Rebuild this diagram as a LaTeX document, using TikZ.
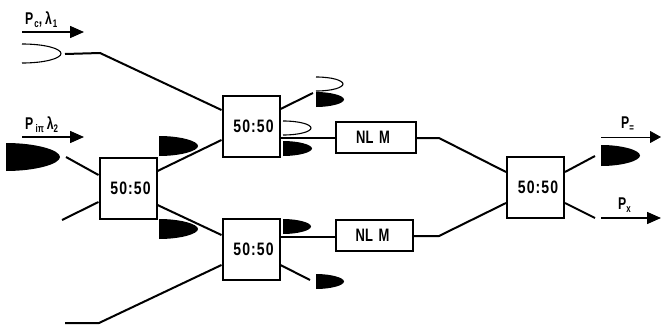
\documentclass[tikz,border=0pt]{standalone}
\usepackage{fontspec}
\setmainfont{Liberation Sans}[FakeStretch=0.72]
\newfontfamily\ratiofont{Liberation Sans}[FakeStretch=0.78,LetterSpace=6]
\usetikzlibrary{arrows.meta}
\tikzset{
  splitbox/.style={draw,line width=2pt,fill=white,minimum width=57pt,minimum height=61pt,inner sep=0pt,font=\ratiofont\bfseries\fontsize{18}{18}\selectfont},
  nlbox/.style={draw,line width=2pt,fill=white,minimum height=31pt,inner sep=0pt,font=\bfseries\fontsize{18}{18}\selectfont},
  fibre/.style={line width=2pt},
  beam/.style={line width=1.5pt,-{Triangle[length=14pt,width=12pt]}},
  thinbeam/.style={line width=0.9pt,-{Triangle[length=11pt,width=12pt]}},
  lab/.style={inner sep=0pt,font=\bfseries\fontsize{17}{17}\selectfont},
  openlens/.style={line width=1.1pt},
}
% #1 left x, #2 top y, #3 tip x, #4 bottom y
\newcommand{\fulllens}[4]{\fill (#1,#2) .. controls ({#1+0.55*(#3-#1)},#2) and (#3,{#2+0.25*(#4-#2)}) .. (#3,{(#2+#4)/2}) .. controls (#3,{#2+0.75*(#4-#2)}) and ({#1+0.55*(#3-#1)},#4) .. (#1,#4) -- cycle;}
\newcommand{\openlens}[4]{\draw[openlens] (#1,#2) .. controls ({#1+0.6*(#3-#1)},#2) and (#3,{#2+0.25*(#4-#2)}) .. (#3,{(#2+#4)/2}) .. controls (#3,{#2+0.75*(#4-#2)}) and ({#1+0.6*(#3-#1)},#4) .. (#1,#4);}
\newcommand{\subs}[1]{\raisebox{-3pt}{\fontsize{11}{11}\selectfont #1}}
\begin{document}
\begin{tikzpicture}[x=1pt,y=-1pt]
\useasboundingbox (0,0) rectangle (661,324);
% boxes
\node[splitbox] (b1) at (128,188) {\hspace*{5pt}50:50};
\node[splitbox] (b2) at (251,126) {\hspace*{5pt}50:50};
\node[splitbox] (b3) at (251,249) {\hspace*{5pt}50:50};
\node[splitbox] (b4) at (535.5,187) {\hspace*{5pt}50:50};
\node[nlbox,minimum width=80pt] (n1) at (375.5,137) {NL\hspace{2pt} M\hspace*{5pt}};
\node[nlbox,minimum width=77pt] (n2) at (374,235) {NL\hspace{2pt} M\hspace*{3pt}};
% free ends
\coordinate (in1) at (65,54);
\coordinate (k1) at (100,53);
\coordinate (in2) at (65,323);
\coordinate (k2) at (99,323);
\coordinate (l1) at (66,157);
\coordinate (l2) at (62,220);
\coordinate (u1) at (313,93);
\coordinate (d1) at (310,280);
\coordinate (j1) at (439,138);
\coordinate (j2) at (439,236);
\coordinate (o1) at (595,156);
\coordinate (o2) at (595,218);
\coordinate (a1s) at (22,32);
\coordinate (a1e) at (84,32);
\coordinate (a2s) at (22,137);
\coordinate (a2e) at (84,137);
\coordinate (a3s) at (601,137);
\coordinate (a3e) at (661,137);
\coordinate (a4s) at (601,218);
\coordinate (a4e) at (661,218);
% fibres
\draw[fibre] (in1) -- (k1) -- ([yshift=16pt]b2.west);
\draw[fibre] (in2) -- (k2) -- ([yshift=-16pt]b3.west);
\draw[fibre] (l1) -- ([yshift=13pt]b1.west);
\draw[fibre] (l2) -- ([yshift=-14pt]b1.west);
\draw[fibre] ([yshift=17pt]b1.east) -- ([yshift=-14pt]b2.west);
\draw[fibre] ([yshift=-17pt]b1.east) -- ([yshift=14pt]b3.west);
\draw[fibre] ([yshift=17pt]b2.east) -- (u1);
\draw[fibre] ([yshift=-12pt]b2.east) -- ([yshift=-1pt]n1.west);
\draw[fibre] ([yshift=12pt]b3.east) -- ([yshift=-2pt]n2.west);
\draw[fibre] ([yshift=-16pt]b3.east) -- (d1);
\draw[fibre] ([yshift=-1pt]n1.east) -- (j1) -- ([yshift=15pt]b4.west);
\draw[fibre] ([yshift=-1pt]n2.east) -- (j2) -- ([yshift=-16pt]b4.west);
\draw[fibre] ([yshift=15pt]b4.east) -- (o1);
\draw[fibre] ([yshift=-16pt]b4.east) -- (o2);
% beams
\draw[beam] (a1s) -- (a1e);
\draw[beam] (a2s) -- (a2e);
\draw[thinbeam] (a3s) -- (a3e);
\draw[beam] (a4s) -- (a4e);
% lenses
\openlens{22}{44}{61}{63}
\openlens{316}{77}{343}{91}
\openlens{283}{121}{311}{135}
\fulllens{6}{143}{60}{171}
\fulllens{159}{136}{198}{156}
\fulllens{159}{219}{198}{239}
\fulllens{316}{92}{344}{107}
\fulllens{283}{141}{312}{156}
\fulllens{283}{219}{311}{234}
\fulllens{316}{274}{344}{289}
\fulllens{601}{145}{640}{166}
% labels
\node[lab,anchor=base west] (t1) at (25,24) {P\hspace{1pt}\subs{c},\hspace{3pt}λ\hspace{1pt}\subs{1}};
\node[lab,anchor=base west] (t2) at (25,129) {P\subs{\ iπ}\hspace{3pt}λ\subs{2}};
\node[lab,anchor=base west] (t3) at (621,128) {P\subs{=}};
\node[lab,anchor=base west] (t4) at (618,209) {P\subs{x}};
\end{tikzpicture}
\end{document}
